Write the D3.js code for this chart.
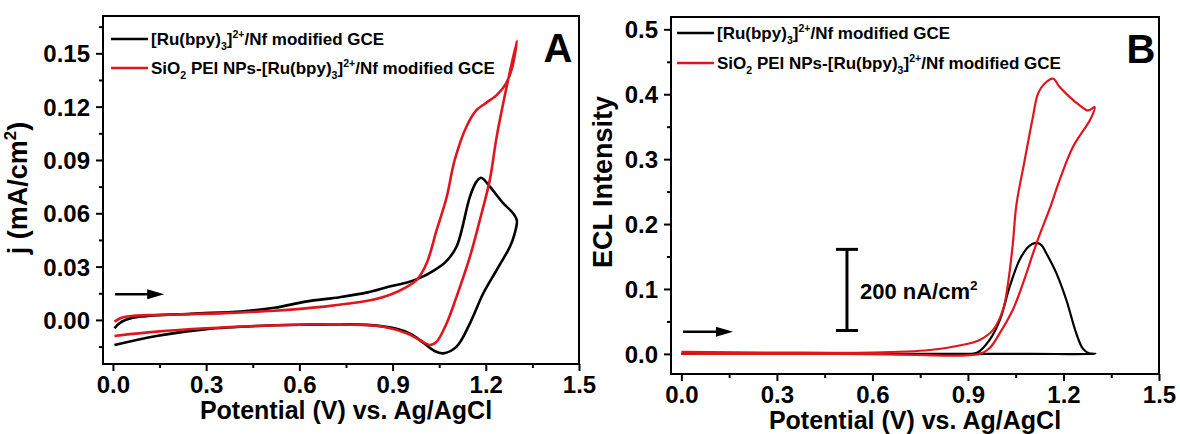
<!DOCTYPE html>
<html>
<head>
<meta charset="utf-8">
<script src="https://cdn.jsdelivr.net/npm/d3@7"></script>
<style>
  body { margin: 0; background: #fff; }
  svg { display: block; font-family: "Liberation Sans", Arial, sans-serif; font-weight: bold; }
</style>
</head>
<body>
<svg id="chart" width="1180" height="434"></svg>
<script>
// ---- data ----
const potentialTicks = [0.0, 0.3, 0.6, 0.9, 1.2, 1.5];
const potentialMinor = [0.15, 0.45, 0.75, 1.05, 1.35];
const currentTicks = [0.00, 0.03, 0.06, 0.09, 0.12, 0.15];
const currentMinor = [-0.015, 0.015, 0.045, 0.075, 0.105, 0.135, 0.165];
const eclTicks = [0.0, 0.1, 0.2, 0.3, 0.4, 0.5];
const eclMinor = [0.05, 0.15, 0.25, 0.35, 0.45];

const seriesNames = ["Ru", "SiO2"];

// panel A: cyclic voltammograms (forward scan then reverse scan)
const cvRuPotential = [0.005, 0.02, 0.04, 0.09, 0.25, 0.41, 0.52, 0.62, 0.73, 0.82, 0.89, 0.95, 0.99, 1.03, 1.07, 1.106, 1.149, 1.17, 1.185, 1.213, 1.256, 1.288, 1.30,
  1.292, 1.278, 1.235, 1.192, 1.149, 1.106, 1.063, 1.035, 1.0, 0.96, 0.913, 0.82, 0.73, 0.60, 0.46, 0.30, 0.14, 0.005];
const cvRuCurrent = [-0.0047, -0.002, 0.0, 0.0019, 0.0035, 0.0047, 0.0068, 0.0103, 0.0128, 0.0155, 0.0188, 0.0212, 0.0238, 0.0275, 0.0325, 0.0413, 0.0694, 0.0778, 0.0800, 0.075, 0.0657, 0.060, 0.056,
  0.048, 0.0413, 0.0281, 0.015, -0.0019, -0.015, -0.0188, -0.0175, -0.013, -0.008, -0.005, -0.0028, -0.0025, -0.0027, -0.0034, -0.0052, -0.009, -0.0141];

const cvSiPotential = [0.005, 0.03, 0.08, 0.14, 0.36, 0.52, 0.68, 0.76, 0.84, 0.89, 0.94, 0.98, 1.01, 1.042, 1.074, 1.10, 1.138, 1.17, 1.20, 1.235, 1.265, 1.285, 1.30,
  1.267, 1.235, 1.213, 1.181, 1.149, 1.106, 1.074, 1.042, 1.02, 0.988, 0.945, 0.87, 0.73, 0.60, 0.46, 0.30, 0.14, 0.005];
const cvSiCurrent = [-0.001, 0.0013, 0.0025, 0.0028, 0.0038, 0.0052, 0.0075, 0.0092, 0.0115, 0.014, 0.018, 0.023, 0.032, 0.0506, 0.069, 0.090, 0.1088, 0.118, 0.122, 0.1265, 0.133, 0.142, 0.157,
  0.131, 0.103, 0.0788, 0.0563, 0.0356, 0.0131, -0.0019, -0.0122, -0.0141, -0.0113, -0.0075, -0.0038, -0.0025, -0.0027, -0.0034, -0.0047, -0.0066, -0.009];

// panel B: ECL intensity
const eclRuPotential = [0.0, 0.5, 0.9, 0.93, 0.968, 1.0, 1.031, 1.062, 1.09, 1.112, 1.13, 1.146, 1.178, 1.209, 1.24, 1.261, 1.28, 1.30, 1.1, 0.93, 0.0];
const eclRuIntensity = [0.0, 0.0, 0.0, 0.002, 0.0215, 0.052, 0.1035, 0.1446, 0.165, 0.171, 0.168, 0.155, 0.124, 0.083, 0.032, 0.008, 0.001, 0.0, 0.0, 0.0, 0.0];

const eclSiPotential = [0.0, 0.3, 0.6, 0.78, 0.885, 0.937, 0.979, 1.010, 1.026, 1.041, 1.052, 1.078, 1.104, 1.12, 1.141, 1.167, 1.188, 1.219, 1.251, 1.277, 1.298,
  1.285, 1.23, 1.188, 1.16, 1.115, 1.073, 1.041, 1.0, 0.968, 0.937, 0.6, 0.0];
const eclSiIntensity = [0.003, 0.002, 0.002, 0.006, 0.014, 0.0215, 0.037, 0.068, 0.109, 0.170, 0.229, 0.298, 0.365, 0.401, 0.4165, 0.424, 0.411, 0.396, 0.383, 0.375, 0.380,
  0.362, 0.319, 0.268, 0.228, 0.170, 0.109, 0.068, 0.032, 0.0088, 0.0, 0.0, 0.0];

// scale bar in panel B (data units)
const scaleBarPotential = 0.52;
const scaleBarIntensity = [0.036, 0.161];

const colors = { Ru: "#000000", SiO2: "#e0161e" };

const svg = d3.select("#chart");

function richText(sel, parts, size) {
  let shift = 0;
  parts.forEach(([t, kind]) => {
    const target = kind === "sub" ? size * 0.32 : kind === "sup" ? -size * 0.42 : 0;
    sel.append("tspan")
      .attr("dy", target - shift)
      .attr("font-size", kind ? size * 0.62 : size)
      .text(t);
    shift = target;
  });
}

const legendParts = {
  Ru: [["[Ru(bpy)", ""], ["3", "sub"], ["]", ""], ["2+", "sup"], ["/Nf modified GCE", ""]],
  SiO2: [["SiO", ""], ["2", "sub"], [" PEI NPs-[Ru(bpy)", ""], ["3", "sub"], ["]", ""], ["2+", "sup"], ["/Nf modified GCE", ""]]
};

function drawPanel(p) {
  const g = svg.append("g");
  const x = d3.scaleLinear().domain(p.xDomain).range([p.left, p.right]);
  const y = d3.scaleLinear().domain(p.yDomain).range([p.bottom, p.top]);

  // curves
  const line = d3.line()
    .x(d => x(d[0]))
    .y(d => y(d[1]))
    .curve(d3.curveCatmullRom.alpha(0.5));

  p.series.forEach(s => {
    const pts = s.xs.map((v, i) => [v, s.ys[i]]);
    g.append("path")
      .attr("d", line(pts))
      .attr("fill", "none")
      .attr("stroke", colors[s.name])
      .attr("stroke-width", p.lineWidth)
      .attr("stroke-linejoin", "round");
  });

  // axes
  const ax = g.append("g").attr("transform", `translate(0,${p.bottom})`)
    .call(d3.axisBottom(x).tickValues(potentialTicks).tickSize(7).tickFormat(d3.format(".1f")));
  g.append("g").attr("transform", `translate(0,${p.bottom})`)
    .call(d3.axisBottom(x).tickValues(potentialMinor).tickSize(4).tickFormat(""));
  const ay = g.append("g").attr("transform", `translate(${p.left},0)`)
    .call(d3.axisLeft(y).tickValues(p.yTicks).tickSize(7).tickFormat(d3.format(p.yFormat)));
  g.append("g").attr("transform", `translate(${p.left},0)`)
    .call(d3.axisLeft(y).tickValues(p.yMinor).tickSize(4).tickFormat(""));

  g.selectAll(".domain").remove();
  g.selectAll(".tick line").attr("stroke", "#000").attr("stroke-width", 2);
  ax.selectAll(".tick text").attr("font-size", 24).attr("font-family", null).attr("fill", "#000").attr("dy", "0.72em").attr("y", 12);
  ay.selectAll(".tick text").attr("font-size", 24).attr("font-family", null).attr("fill", "#000").attr("x", -13).attr("dy", "0.36em");

  // frame
  g.append("rect")
    .attr("x", p.left).attr("y", p.top)
    .attr("width", p.right - p.left).attr("height", p.bottom - p.top)
    .attr("fill", "none").attr("stroke", "#000").attr("stroke-width", 2);

  // axis titles
  g.append("text")
    .attr("x", (p.left + p.right) / 2 + p.xTitleShift).attr("y", p.bottom + 55)
    .attr("text-anchor", "middle").attr("font-size", 25)
    .text("Potential (V) vs. Ag/AgCl");

  const yt = g.append("text")
    .attr("transform", `translate(${p.yTitleX},${p.yTitleY}) rotate(-90)`)
    .attr("text-anchor", "middle").attr("font-size", 27);
  richText(yt, p.yTitleParts, 27);

  // panel letter
  g.append("text")
    .attr("x", p.letterX).attr("y", p.top + 46)
    .attr("text-anchor", "middle").attr("font-size", 40)
    .text(p.letter);

  // legend
  seriesNames.forEach((name, i) => {
    const ly = p.top + p.legendY[i];
    g.append("line")
      .attr("x1", p.left + p.legendX).attr("x2", p.left + p.legendX + 37)
      .attr("y1", ly).attr("y2", ly)
      .attr("stroke", colors[name]).attr("stroke-width", 2.5);
    const t = g.append("text")
      .attr("x", p.left + p.legendX + 40).attr("y", ly + 6)
      .attr("font-size", 17);
    richText(t, legendParts[name], 17);
  });

  // scan direction arrow
  const a0 = x(p.arrow[0]), a1 = x(p.arrow[1]), ay0 = y(p.arrow[2]);
  g.append("line")
    .attr("x1", a0).attr("x2", a1 - 10).attr("y1", ay0).attr("y2", ay0)
    .attr("stroke", "#000").attr("stroke-width", 2.5);
  g.append("path")
    .attr("d", `M${a1},${ay0} L${a1 - 17},${ay0 - 5} L${a1 - 17},${ay0 + 5} Z`)
    .attr("fill", "#000");

  return { g, x, y };
}

drawPanel({
  left: 103, right: 579, top: 16, bottom: 364,
  xDomain: [-0.032, 1.5], yDomain: [-0.0248, 0.171],
  yTicks: currentTicks, yMinor: currentMinor, yFormat: ".2f",
  xTitleShift: 5,
  yTitleX: 27, yTitleY: 188,
  yTitleParts: [["j (mA/cm", ""], ["2", "sup"], [")", ""]],
  letter: "A", letterX: 558,
  legendX: 8, legendY: [23, 52],
  lineWidth: 2.6,
  arrow: [0.007, 0.165, 0.0145],
  series: [
    { name: "Ru", xs: cvRuPotential, ys: cvRuCurrent },
    { name: "SiO2", xs: cvSiPotential, ys: cvSiCurrent }
  ]
});

const panelB = drawPanel({
  left: 671, right: 1159, top: 17, bottom: 374,
  xDomain: [-0.0326, 1.5], yDomain: [-0.031, 0.519],
  yTicks: eclTicks, yMinor: eclMinor, yFormat: ".1f",
  xTitleShift: 0,
  yTitleX: 612, yTitleY: 182,
  yTitleParts: [["ECL Intensity", ""]],
  letter: "B", letterX: 1141,
  legendX: 6, legendY: [16, 46],
  lineWidth: 2.2,
  arrow: [0.005, 0.162, 0.034],
  series: [
    { name: "Ru", xs: eclRuPotential, ys: eclRuIntensity },
    { name: "SiO2", xs: eclSiPotential, ys: eclSiIntensity }
  ]
});

// scale bar in panel B
{
  const { g, x, y } = panelB;
  const sx = x(scaleBarPotential);
  const sTop = y(scaleBarIntensity[1]), sBot = y(scaleBarIntensity[0]);
  g.append("line").attr("x1", sx).attr("x2", sx).attr("y1", sTop).attr("y2", sBot)
    .attr("stroke", "#000").attr("stroke-width", 3);
  [sTop, sBot].forEach(yy => {
    g.append("line").attr("x1", sx - 11).attr("x2", sx + 11).attr("y1", yy).attr("y2", yy)
      .attr("stroke", "#000").attr("stroke-width", 3);
  });
  const t = g.append("text").attr("x", sx + 13).attr("y", (sTop + sBot) / 2 + 9).attr("font-size", 22);
  richText(t, [["200 nA/cm", ""], ["2", "sup"]], 22);
}
</script>
</body>
</html>
